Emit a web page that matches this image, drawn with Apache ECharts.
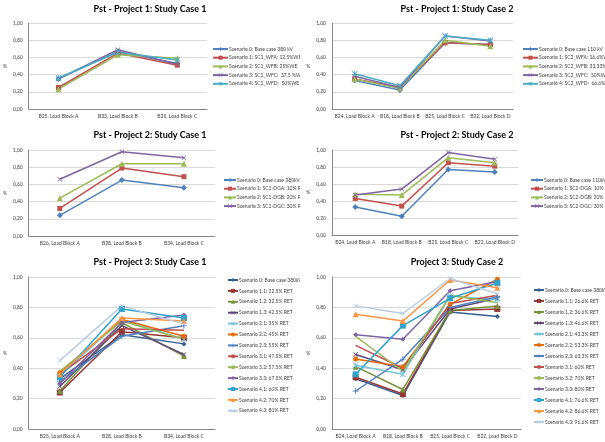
<!DOCTYPE html>
<html>
<head>
<meta charset="utf-8">
<script src="https://cdn.jsdelivr.net/npm/echarts@6/dist/echarts.min.js"></script>
<style>
  html, body { margin: 0; padding: 0; background: #fff; }
  body { width: 605px; height: 442px; position: relative; overflow: hidden; }
  .panel { position: absolute; overflow: hidden; }
</style>
</head>
<body>
<div id="p1" class="panel" style="left:0;top:0;width:300px;height:128px"></div>
<div id="p2" class="panel" style="left:300px;top:0;width:305px;height:128px"></div>
<div id="p3" class="panel" style="left:0;top:128px;width:300px;height:126px"></div>
<div id="p4" class="panel" style="left:300px;top:128px;width:305px;height:126px"></div>
<div id="p5" class="panel" style="left:0;top:254px;width:300px;height:188px"></div>
<div id="p6" class="panel" style="left:300px;top:254px;width:305px;height:188px"></div>
<script>
// ---- categories ----
const catsP1C1 = ['B25, Load Block A', 'B33, Load Block B', 'B35, Load Block C'];
const catsSC2 = ['B24, Load Block A', 'B18, Load Block B', 'B25, Load Block C', 'B22, Load Block D'];
const catsP2C1 = ['B26, Load Block A', 'B28, Load Block B', 'B34, Load Block C'];
const catsP3C1 = ['B25, Load Block A', 'B28, Load Block B', 'B34, Load Block C'];

// ---- y axis ticks ----
const yTicks = [0, 0.2, 0.4, 0.6, 0.8, 1.0];

// ---- Project 1, Study Case 1 ----
const p1c1Names = ['Scenario 0: Base case 380 kV', 'Scenario 1: SC1_WFA: 12.5%WE', 'Scenario 2: SC1_WFB: 25%WE', 'Scenario 3: SC1_WFC:  37.5 %WE', 'Scenario 4: SC1_WFD:  50%WE'];
const p1c1S0 = [0.35, 0.67, 0.53];
const p1c1S1 = [0.25, 0.65, 0.51];
const p1c1S2 = [0.23, 0.63, 0.59];
const p1c1S3 = [0.35, 0.69, 0.52];
const p1c1S4 = [0.36, 0.66, 0.57];

// ---- Project 1, Study Case 2 ----
const p1c2Names = ['Scenario 0: Base case 110 kV', 'Scenario 1: SC2_WFA: 16.6%WE', 'Scenario 2: SC2_WFB: 33.33%WE', 'Scenario 3: SC2_WFC:  50%WE', 'Scenario 4: SC2_WFD:  66.6%WE'];
const p1c2S0 = [0.33, 0.22, 0.77, 0.75];
const p1c2S1 = [0.35, 0.25, 0.77, 0.75];
const p1c2S2 = [0.35, 0.24, 0.80, 0.73];
const p1c2S3 = [0.38, 0.25, 0.85, 0.79];
const p1c2S4 = [0.41, 0.27, 0.85, 0.80];

// ---- Project 2, Study Case 1 ----
const p2c1Names = ['Scenario 0: Base case 380kV', 'Scenario 1: SC1-DGA: 10% RE', 'Scenario 2: SC1-DGB: 20% RE', 'Scenario 3: SC1-DGC: 30% RE'];
const p2c1S0 = [0.24, 0.65, 0.56];
const p2c1S1 = [0.32, 0.79, 0.69];
const p2c1S2 = [0.44, 0.84, 0.84];
const p2c1S3 = [0.66, 0.98, 0.91];

// ---- Project 2, Study Case 2 ----
const p2c2Names = ['Scenario 0: Base case 110kV', 'Scenario 1: SC2-DGA: 10% RE', 'Scenario 2: SC2-DGB: 20% RE', 'Scenario 3: SC2-DGC: 30% RE'];
const p2c2S0 = [0.33, 0.22, 0.77, 0.74];
const p2c2S1 = [0.43, 0.34, 0.85, 0.81];
const p2c2S2 = [0.48, 0.47, 0.91, 0.85];
const p2c2S3 = [0.47, 0.54, 0.97, 0.89];

// ---- Project 3, Study Case 1 ----
const p3c1Names = ['Scenario 0: Base case 380kV', 'Scenario 1.1: 22.5% RET', 'Scenario 1.2: 32.5% RET', 'Scenario 1.3: 42.5% RET', 'Scenario 2.1: 35% RET', 'Scenario 2.2: 45% RET', 'Scenario 2.3: 55% RET', 'Scenario 3.1: 47.5% RET', 'Scenario 3.2: 57.5% RET', 'Scenario 3.3: 67.5% RET', 'Scenario 4.1: 60% RET', 'Scenario 4.2: 70% RET', 'Scenario 4.3: 80% RET'];
const p3c1S0 = [0.33, 0.62, 0.56];
const p3c1S11 = [0.24, 0.64, 0.60];
const p3c1S12 = [0.25, 0.70, 0.48];
const p3c1S13 = [0.28, 0.68, 0.49];
const p3c1S21 = [0.35, 0.72, 0.59];
const p3c1S22 = [0.37, 0.72, 0.61];
const p3c1S23 = [0.31, 0.61, 0.68];
const p3c1S31 = [0.36, 0.66, 0.65];
const p3c1S32 = [0.38, 0.71, 0.59];
const p3c1S33 = [0.30, 0.70, 0.75];
const p3c1S41 = [0.34, 0.79, 0.73];
const p3c1S42 = [0.36, 0.73, 0.71];
const p3c1S43 = [0.45, 0.81, 0.69];

// ---- Project 3, Study Case 2 ----
const p3c2Names = ['Scenario 0: Base case 380kV', 'Scenario 1.1: 26.6% RET', 'Scenario 1.2: 36.6% RET', 'Scenario 1.3: 46.6% RET', 'Scenario 2.1: 43.3% RET', 'Scenario 2.2: 53.3% RET', 'Scenario 2.3: 63.3% RET', 'Scenario 3.1: 60% RET', 'Scenario 3.2: 70% RET', 'Scenario 3.3: 80% RET', 'Scenario 4.1: 76.6% RET', 'Scenario 4.2: 86.6% RET', 'Scenario 4.3: 96.6% RET'];
const p3c2S0 = [0.33, 0.22, 0.77, 0.74];
const p3c2S11 = [0.34, 0.23, 0.78, 0.79];
const p3c2S12 = [0.41, 0.26, 0.78, 0.81];
const p3c2S13 = [0.49, 0.39, 0.79, 0.86];
const p3c2S21 = [0.42, 0.36, 0.875, 0.85];
const p3c2S22 = [0.46, 0.41, 0.82, 0.985];
const p3c2S23 = [0.25, 0.46, 0.80, 0.87];
const p3c2S31 = [0.55, 0.40, 0.825, 0.88];
const p3c2S32 = [0.61, 0.38, 0.88, 0.83];
const p3c2S33 = [0.62, 0.59, 0.91, 0.97];
const p3c2S41 = [0.36, 0.68, 0.86, 0.96];
const p3c2S42 = [0.755, 0.71, 0.98, 0.93];
const p3c2S43 = [0.81, 0.76, 0.99, 0.89];

// ---- marker shapes ----
const symX = 'path://M0,1L1,0L5,4L9,0L10,1L6,5L10,9L9,10L5,6L1,10L0,9L4,5Z';
const symStar = 'path://M0,1L1,0L5,4L9,0L10,1L6,5L10,9L9,10L5,6L1,10L0,9L4,5Z M4.4,0L5.6,0L5.6,10L4.4,10Z';
const symPlus = 'path://M4.3,0L5.7,0L5.7,4.3L10,4.3L10,5.7L5.7,5.7L5.7,10L4.3,10L4.3,5.7L0,5.7L0,4.3L4.3,4.3Z';

const baseColors = ['#4F81BD', '#C0504D', '#9BBB59', '#8064A2', '#4BACC6'];
const baseSymbols = ['diamond', 'rect', 'triangle', symX, symStar];
const baseSizes = [6, 5, 6, 5, 6];

const p3Colors = ['#376092', '#953735', '#77933C', '#604A7B', '#7BC5D8', '#E46C0A', '#4F81BD', '#C0504D', '#9BBB59', '#8064A2', '#31A3CB', '#F79646', '#B9CDE5'];
const p3Symbols = ['diamond', 'rect', 'triangle', symX, symStar, 'circle', symPlus, 'none', 'none', 'diamond', 'rect', 'triangle', symX];
const p3Sizes = [5, 6, 6, 5, 6, 5, 6, 0, 0, 5, 6, 6, 5];

const FONT = 'Lato, "Open Sans", sans-serif';

function makeSeries(names, values, colors, symbols, sizes) {
  return names.map((n, i) => ({
    type: 'line',
    name: n,
    data: values[i],
    symbol: symbols[i],
    symbolSize: sizes[i],
    showSymbol: symbols[i] !== 'none',
    lineStyle: { color: colors[i], width: 1.5 },
    itemStyle: { color: colors[i] },
    emphasis: { disabled: true },
    animation: false,
    z: 2
  }));
}

function makeOption(p) {
  return {
    animation: false,
    title: {
      text: p.title,
      left: p.titleX, top: p.titleY, textAlign: 'center', padding: 0,
      textStyle: { fontFamily: FONT, fontSize: 9, fontWeight: 'bold', color: '#000' }
    },
    legend: {
      orient: 'vertical',
      left: p.legendX, top: p.legendY, padding: 0,
      itemWidth: p.iconW, itemHeight: 5,
      itemGap: p.legendGap,
      data: p.names,
      textStyle: { fontFamily: FONT, fontSize: 5, color: '#404040', padding: [0, 0, 0, -4] }
    },
    grid: { left: p.gx, top: p.gy, width: p.gw, height: p.gh },
    xAxis: {
      type: 'category',
      data: p.cats,
      boundaryGap: true,
      axisLine: { lineStyle: { color: '#868686', width: 1 } },
      axisTick: { show: false },
      axisLabel: { fontFamily: FONT, fontSize: 5, color: '#404040', margin: 5, interval: 0 }
    },
    yAxis: {
      type: 'value',
      min: yTicks[0], max: yTicks[yTicks.length - 1], interval: 0.2,
      name: '%', nameLocation: 'middle', nameGap: 19, nameRotate: 0,
      nameTextStyle: { fontFamily: FONT, fontSize: 5, color: '#404040' },
      axisLine: { show: true, lineStyle: { color: '#868686', width: 1 } },
      axisTick: { show: false },
      splitLine: { lineStyle: { color: '#d9d9d9', width: 1 } },
      axisLabel: {
        fontFamily: FONT, fontSize: 5, color: '#404040', margin: 6,
        formatter: v => v.toFixed(2).replace('.', ',')
      }
    },
    series: makeSeries(p.names, p.values, p.colors, p.symbols, p.sizes)
  };
}

const panels = [
  { id: 'p1', title: 'Pst - Project 1: Study Case 1', titleX: 150, titleY: 5,
    gx: 25, gy: 23, gw: 182, gh: 86, legendX: 212, legendY: 46.5, legendGap: 3.7, iconW: 15,
    cats: catsP1C1, names: p1c1Names, values: [p1c1S0, p1c1S1, p1c1S2, p1c1S3, p1c1S4],
    colors: baseColors, symbols: baseSymbols, sizes: baseSizes },
  { id: 'p2', title: 'Pst - Project 1: Study Case 2', titleX: 157, titleY: 5,
    gx: 32, gy: 23, gw: 181, gh: 86, legendX: 222, legendY: 46.5, legendGap: 3.7, iconW: 15,
    cats: catsSC2, names: p1c2Names, values: [p1c2S0, p1c2S1, p1c2S2, p1c2S3, p1c2S4],
    colors: baseColors, symbols: baseSymbols, sizes: baseSizes },
  { id: 'p3', title: 'Pst - Project 2: Study Case 1', titleX: 150, titleY: 3,
    gx: 25, gy: 22, gw: 190, gh: 86, legendX: 223, legendY: 49.5, legendGap: 3.7, iconW: 12,
    cats: catsP2C1, names: p2c1Names, values: [p2c1S0, p2c1S1, p2c1S2, p2c1S3],
    colors: baseColors, symbols: baseSymbols, sizes: baseSizes },
  { id: 'p4', title: 'Pst - Project 2: Study Case 2', titleX: 157, titleY: 3,
    gx: 32, gy: 22, gw: 186, gh: 85, legendX: 230, legendY: 49.5, legendGap: 3.7, iconW: 12,
    cats: catsSC2, names: p2c2Names, values: [p2c2S0, p2c2S1, p2c2S2, p2c2S3],
    colors: baseColors, symbols: baseSymbols, sizes: baseSizes },
  { id: 'p5', title: 'Pst - Project 3: Study Case 1', titleX: 150, titleY: 4,
    gx: 25, gy: 23, gw: 190, gh: 152, legendX: 227, legendY: 23.5, legendGap: 5.9, iconW: 10,
    cats: catsP3C1, names: p3c1Names,
    values: [p3c1S0, p3c1S11, p3c1S12, p3c1S13, p3c1S21, p3c1S22, p3c1S23, p3c1S31, p3c1S32, p3c1S33, p3c1S41, p3c1S42, p3c1S43],
    colors: p3Colors, symbols: p3Symbols, sizes: p3Sizes },
  { id: 'p6', title: 'Project 3: Study Case 2', titleX: 157, titleY: 4,
    gx: 32, gy: 23, gw: 189, gh: 152, legendX: 233, legendY: 33.5, legendGap: 6.0, iconW: 10,
    cats: catsSC2, names: p3c2Names,
    values: [p3c2S0, p3c2S11, p3c2S12, p3c2S13, p3c2S21, p3c2S22, p3c2S23, p3c2S31, p3c2S32, p3c2S33, p3c2S41, p3c2S42, p3c2S43],
    colors: p3Colors, symbols: p3Symbols, sizes: p3Sizes }
];

panels.forEach(p => {
  const chart = echarts.init(document.getElementById(p.id), null, { renderer: 'canvas' });
  chart.setOption(makeOption(p));
});
</script>
</body>
</html>
